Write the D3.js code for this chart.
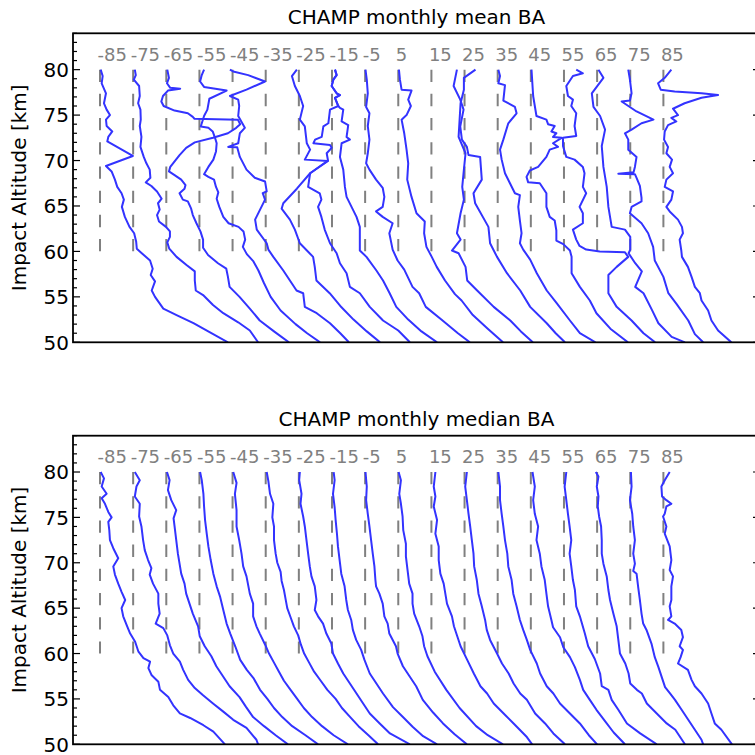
<!DOCTYPE html>
<html>
<head>
<meta charset="utf-8">
<script src="https://cdn.jsdelivr.net/npm/d3@7/dist/d3.min.js"></script>
<style>
  html, body { margin: 0; padding: 0; background: #fff; }
  svg { display: block; }
  text { font-family: "DejaVu Sans", sans-serif; }
</style>
</head>
<body>
<svg id="fig" width="755" height="755"></svg>
<script>
// Latitude bands (deg) – each profile is shifted horizontally by its band centre
const latitudes = [-85, -75, -65, -55, -45, -35, -25, -15, -5, 5, 15, 25, 35, 45, 55, 65, 75, 85];
const altTicks = [50, 55, 60, 65, 70, 75, 80];

// Monthly mean bending-angle profiles: [impact altitude km, shift]
const meanS85 = [[80,0.2],[79.3,0.8],[78.5,0.5],[77.4,1.8],[76.3,1.2],[75.6,2.0],[75.0,3.0],[74.5,1.8],[73.8,2.0],[73.2,3.7],[72.6,2.5],[72.1,2.2],[70.5,9.9],[69.4,1.8],[68.8,3.5],[67.9,4.5],[67.1,5.2],[66.4,6.5],[65.7,7.2],[64.9,6.6],[63.8,7.5],[62.7,8.9],[62.0,10.3],[61.1,10.9],[60.3,11.1],[59.8,12.6],[59.0,15.1],[58.1,15.9],[57.4,15.3],[56.7,16.6],[55.7,15.6],[55.0,16.6],[53.7,19.1],[53.0,23.1],[52.1,28.2],[51.1,33.2],[50,38.6]];
const meanS75 = [[80,0.5],[79.4,0.8],[78.9,0.2],[78.2,1.8],[77.1,2.0],[76.3,1.5],[75.6,2.2],[74.5,2.3],[73.8,2.0],[72.6,2.5],[71.5,2.2],[70.4,3.2],[69.7,4.0],[69.0,5.0],[68.1,5.2],[67.6,3.8],[67.2,5.5],[66.6,7.2],[65.8,8.6],[65.3,7.5],[64.6,8.0],[64.0,7.2],[63.3,7.8],[62.7,9.9],[62.2,11.1],[61.6,11.1],[61.0,10.3],[60.3,10.9],[59.4,13.1],[58.5,16.1],[57.8,18.6],[56.8,18.6],[55.7,18.9],[55.2,21.1],[54.1,24.1],[53.2,27.2],[52.2,31.7],[51.3,35.2],[50,37.7]];
const meanS65 = [[80,0.3],[79.1,0.8],[78.5,0.2],[78.0,1.2],[77.9,4.2],[77.7,0.5],[77.1,-1.0],[76.5,-1.5],[76.0,-0.8],[75.5,2.5],[75.2,6.5],[74.8,8.0],[74.6,8.5],[74.5,21.6],[74.0,22.3],[73.6,21.1],[73.0,18.6],[72.5,14.1],[72.0,8.6],[71.4,6.0],[70.6,4.0],[69.3,1.2],[68.8,0.8],[68.4,2.5],[67.9,4.5],[67.3,5.8],[66.9,5.5],[66.4,4.0],[65.7,5.0],[65.5,6.5],[64.7,7.5],[64.0,8.0],[63.1,9.1],[62.2,10.3],[61.3,11.1],[60.4,11.1],[59.6,12.6],[58.7,15.6],[58.1,18.1],[57.2,18.6],[56.1,19.1],[55.0,22.1],[53.7,25.2],[52.4,28.2],[51.2,32.5],[50,37.0]];
const meanS55 = [[80,1.4],[79.4,0.7],[78.7,0.2],[78.1,1.4],[77.7,8.2],[76.8,3.0],[75.6,2.4],[74.9,1.4],[73.75,0.4],[73.6,2.7],[73.2,4.0],[72.5,4.7],[71.9,5.2],[71.0,5.0],[70.1,4.2],[69.3,2.7],[68.5,1.4],[68.2,2.7],[67.9,4.4],[67.1,5.0],[66.5,5.7],[65.8,5.2],[64.9,6.0],[63.8,7.2],[63.1,8.8],[62.7,11.8],[62.2,13.3],[61.3,13.8],[60.5,13.1],[59.7,14.3],[58.9,16.3],[57.9,17.8],[56.5,19.5],[55.0,21.5],[53.5,24.5],[52.0,29.0],[51.0,32.5],[50,36.4]];
const meanS45 = [[80,-0.8],[79.8,0.2],[79.4,4.7],[78.7,9.8],[77.8,4.2],[77.1,-0.8],[76.7,1.7],[76.0,2.0],[74.9,1.7],[73.6,3.7],[73.0,2.2],[71.9,1.7],[71.5,-1.3],[71.45,1.4],[70.4,2.2],[69.0,4.2],[68.1,6.7],[67.7,9.8],[66.6,10.3],[66.4,9.1],[65.7,9.8],[63.5,6.8],[62.4,7.3],[60.9,10.3],[60.2,10.8],[59.4,12.3],[57.9,15.3],[56.8,17.3],[55.7,19.3],[55.4,21.3],[53.9,21.8],[53.2,25.4],[52.1,29.4],[51.0,32.5],[50,35.1]];
const meanS35 = [[80,9.4],[79.3,7.9],[78.2,8.8],[77.1,10.3],[76.0,11.3],[74.5,10.3],[73.75,11.8],[71.9,12.4],[71.2,13.4],[70.1,11.8],[69.95,18.8],[68.6,13.4],[66.9,9.4],[65.3,5.3],[64.7,4.8],[63.5,7.3],[62.4,8.8],[60.9,10.3],[59.4,14.3],[58.3,14.8],[56.8,15.3],[55.4,19.3],[54.0,22.5],[52.5,26.5],[51.2,30.5],[50,34.5]];
const meanS25 = [[80,10.9],[79.4,11.4],[78.9,10.4],[78.2,9.9],[77.4,11.4],[77.2,12.4],[76.9,10.9],[76.0,11.9],[75.6,9.4],[74.1,8.9],[73.75,7.4],[72.6,6.9],[72.3,4.9],[71.9,4.4],[71.7,9.4],[71.4,9.9],[70.8,8.4],[70.0,8.8],[68.6,3.4],[67.1,2.8],[66.4,6.3],[65.7,6.8],[64.9,5.8],[63.8,6.8],[62.4,7.8],[60.9,9.4],[59.8,11.4],[58.7,12.4],[57.6,14.4],[56.1,15.4],[55.4,18.4],[53.9,21.4],[52.4,25.4],[51.3,30.0],[50,33.5]];
const meanS15 = [[80,0.9],[79.4,1.4],[78.9,0.4],[78.2,-0.1],[77.4,1.4],[77.2,2.4],[76.9,0.9],[76.0,1.9],[75.8,2.4],[75.6,3.4],[74.3,2.9],[73.9,4.9],[72.6,4.4],[72.3,5.4],[71.9,2.9],[70.4,2.4],[69.0,3.4],[67.1,3.9],[66.0,4.4],[63.8,7.4],[62.7,8.4],[60.1,8.4],[59.4,10.4],[57.9,13.4],[56.8,15.4],[55.4,17.4],[53.9,19.4],[52.5,23.0],[51.2,27.0],[50,31.7]];
const meanS05 = [[80,0.1],[78.9,0.5],[77.4,0.8],[75.9,0.3],[75.2,1.3],[73.8,0.8],[72.3,1.3],[70.8,0.8],[69.7,0.3],[69.0,1.3],[67.9,3.3],[67.0,5.3],[66.0,5.8],[64.9,5.3],[64.4,3.3],[63.8,5.3],[63.1,8.3],[62.0,7.3],[60.2,8.3],[59.0,9.8],[58.0,11.8],[56.1,14.3],[55.4,16.3],[53.9,18.3],[52.5,23.0],[51.0,28.0],[50,31.6]];
const meanN05 = [[80,0.2],[78.9,0.5],[77.8,1.0],[77.7,4.0],[76.7,3.0],[76.0,3.8],[75.0,2.5],[74.5,1.0],[73.0,1.8],[71.2,2.5],[69.7,3.0],[67.9,2.7],[66.0,4.0],[64.2,5.5],[63.3,8.0],[62.0,7.8],[60.5,8.5],[59.4,10.1],[58.3,11.6],[56.8,14.1],[55.3,17.1],[54.6,19.1],[53.0,22.5],[51.5,27.0],[50,31.6]];
const meanN15 = [[80,13.3],[79.1,9.8],[77.8,9.8],[76.3,8.8],[72.6,8.2],[70.8,10.3],[69.0,9.8],[67.1,9.3],[65.7,9.8],[64.2,8.8],[62.0,7.7],[61.3,8.8],[60.1,6.2],[59.8,8.2],[58.3,10.3],[56.8,10.8],[55.7,13.8],[53.9,18.8],[52.4,23.8],[51.2,27.0],[50,30.6]];
const meanN25 = [[80,-2.3],[78.2,-3.3],[76.7,-1.3],[75.6,-0.3],[73.75,-1.3],[72.3,-0.8],[71.5,0.7],[70.6,1.2],[70.4,4.7],[67.9,5.2],[66.4,2.7],[65.3,3.2],[62.7,7.2],[60.9,7.7],[59.4,9.8],[57.6,12.8],[55.7,16.8],[53.9,19.8],[52.1,24.8],[51.0,27.5],[50,30.3]];
const meanN35 = [[80,0.2],[79.3,0.7],[78.5,0.2],[78.3,2.2],[76.6,1.7],[75.9,5.2],[75.2,5.7],[74.1,3.2],[72.3,1.7],[71.2,0.7],[70.1,1.2],[68.6,2.2],[67.5,3.7],[66.4,5.2],[66.2,6.7],[64.9,6.2],[63.4,6.7],[62.0,7.2],[60.9,6.7],[60.2,7.7],[59.1,9.8],[57.6,11.8],[55.7,14.8],[54.3,17.8],[52.4,21.8],[51.0,24.8],[50,29.5]];
const meanN45 = [[80,0.2],[77.1,0.7],[74.9,1.7],[74.5,4.7],[74.0,5.2],[73.8,7.2],[73.2,6.2],[73.0,7.7],[72.6,6.7],[72.5,9.3],[71.9,6.7],[71.5,8.2],[71.2,5.7],[70.4,4.7],[69.3,2.2],[68.9,-0.3],[68.2,-1.3],[67.6,-0.8],[67.5,2.7],[66.4,4.7],[64.9,4.7],[63.8,5.7],[63.4,7.2],[62.3,7.7],[61.2,7.7],[60.8,9.8],[60.1,11.8],[59.4,12.3],[57.6,12.3],[56.1,14.8],[54.6,17.8],[53.2,19.8],[51.5,24.0],[50,29.3]];
const meanN55 = [[80,3.7],[79.6,5.7],[79.3,2.7],[78.2,0.7],[77.1,1.2],[76.7,2.7],[76.0,2.2],[75.2,3.7],[73.8,3.2],[72.7,3.7],[72.5,-0.3],[71.6,-0.3],[70.4,0.7],[70.1,3.2],[69.3,5.7],[68.6,6.2],[67.1,5.7],[66.4,6.7],[64.9,4.7],[64.2,5.7],[63.1,5.7],[62.4,2.7],[61.3,3.7],[60.6,4.7],[60.2,6.7],[60.0,10.8],[59.9,18.4],[59.4,19.4],[58.3,15.9],[57.4,13.4],[55.4,13.4],[53.9,15.9],[52.4,20.4],[51.0,24.0],[50,27.5]];
const meanN65 = [[80,0.4],[79.1,1.9],[77.4,-1.6],[75.9,-1.1],[74.9,0.9],[73.4,2.4],[71.6,1.4],[69.3,1.9],[67.1,2.9],[64.9,3.4],[62.7,4.4],[62.4,8.4],[61.6,10.0],[60.2,10.0],[59.8,9.5],[58.7,11.5],[57.8,13.5],[56.1,11.5],[55.4,14.0],[53.6,16.5],[52.1,18.5],[50.6,22.5],[50,26.5]];
const meanN75 = [[80,-0.6],[78.9,-0.1],[77.4,0.4],[76.6,-0.1],[76.5,-2.6],[75.4,1.9],[74.5,7.0],[74.1,3.4],[73.4,0.4],[73.0,-1.6],[72.3,-0.6],[71.2,-0.6],[70.4,1.9],[69.3,1.4],[68.7,1.0],[68.55,-3.6],[68.5,1.4],[68.1,1.9],[67.2,2.9],[65.9,3.4],[65.5,3.4],[64.9,0.4],[64.2,-0.1],[63.1,3.4],[62.0,5.4],[60.5,6.9],[59.0,7.4],[57.2,10.0],[55.4,11.5],[54.2,14.0],[52.4,17.5],[50.9,19.5],[50,22.0]];
const meanN85 = [[80,2.4],[79.1,0.4],[78.5,-1.6],[77.8,-0.8],[77.6,3.4],[77.4,11.5],[77.2,16.5],[76.9,11.5],[76.3,6.4],[75.7,2.9],[75.0,4.4],[74.7,2.4],[74.3,3.9],[73.9,1.4],[73.2,0.4],[72.3,0.2],[71.5,1.4],[70.8,0.9],[70.1,2.6],[69.3,1.9],[68.6,2.9],[67.9,0.9],[67.1,0.4],[66.6,2.9],[65.7,2.4],[64.9,0.9],[64.4,1.9],[63.5,4.4],[62.7,5.6],[62.0,5.9],[61.3,4.9],[60.1,5.4],[59.4,5.6],[58.3,7.4],[57.2,8.5],[56.1,9.5],[55.4,11.0],[54.6,11.5],[53.5,13.5],[52.4,14.5],[51.3,16.5],[50,20.5]];

// Monthly median bending-angle profiles: [impact altitude km, shift]
const medS85 = [[80,0.2],[79.3,1.2],[78.4,0.5],[77.6,2.0],[77.1,0.5],[76.5,1.5],[75.6,2.5],[75.0,3.5],[74.5,2.5],[73.6,2.8],[72.5,3.0],[71.6,4.0],[70.5,5.5],[69.6,4.0],[68.7,4.5],[67.7,5.5],[66.8,6.5],[65.9,7.6],[65.0,6.5],[64.1,7.0],[63.0,8.2],[62.2,9.1],[61.3,10.6],[60.2,11.6],[59.5,13.1],[59.1,15.1],[58.4,14.6],[57.6,15.6],[56.9,17.6],[56.0,18.1],[55.2,20.6],[54.3,22.1],[53.4,24.1],[52.9,27.2],[52.1,31.2],[51.4,34.2],[50,37.7]];
const medS75 = [[80,0.5],[79.1,2.0],[78.4,1.0],[77.3,0.5],[76.5,2.0],[75.1,1.8],[74.0,2.5],[72.5,3.0],[71.4,3.5],[70.3,4.5],[69.4,5.5],[68.7,5.0],[67.7,6.0],[66.6,7.6],[65.5,7.6],[64.4,8.0],[63.3,6.8],[62.8,9.1],[62.0,10.3],[60.9,11.1],[60.0,12.1],[59.1,14.1],[58.2,15.1],[57.1,16.6],[56.2,18.6],[55.4,21.1],[54.5,24.1],[53.6,27.2],[52.7,30.2],[51.8,34.2],[50.5,37.2],[50,37.7]];
const medS65 = [[80,0.2],[79.1,1.0],[78.0,0.5],[76.9,1.5],[75.8,3.0],[74.9,2.2],[74.0,2.5],[72.5,3.0],[71.0,3.5],[69.9,4.0],[68.8,4.5],[67.7,5.5],[66.6,6.0],[65.5,7.0],[64.4,8.0],[63.0,9.6],[61.9,10.1],[60.8,11.6],[59.7,13.6],[58.6,15.1],[57.5,17.1],[56.4,19.1],[55.2,22.1],[54.1,24.1],[53.0,26.2],[52.0,29.5],[51.0,33.0],[50,36.7]];
const medS55 = [[80,0.2],[79.1,0.7],[77.6,1.2],[76.2,1.4],[74.7,1.7],[73.2,2.2],[71.8,2.7],[70.3,3.4],[68.8,4.2],[67.4,5.2],[66.3,6.2],[64.8,7.2],[63.3,8.2],[62.2,9.3],[60.8,10.8],[59.3,12.3],[58.2,14.3],[57.3,16.3],[56.0,18.3],[55.0,20.5],[54.0,22.5],[53.0,25.0],[52.0,28.0],[51.0,32.0],[50,35.8]];
const medS45 = [[80,0.2],[78.8,1.2],[77.6,0.7],[75.8,1.2],[74.0,1.2],[72.5,2.0],[71.0,2.7],[69.6,3.2],[68.5,4.2],[66.6,5.2],[65.5,6.2],[64.1,6.2],[63.0,7.2],[62.2,8.2],[61.0,9.8],[60.0,11.0],[59.0,12.5],[58.0,14.0],[57.0,15.5],[56.0,17.5],[55.0,19.5],[54.0,21.5],[53.0,24.0],[52.0,27.0],[51.0,30.5],[50,34.8]];
const medS35 = [[80,0.3],[79.0,0.8],[77.6,1.3],[76.5,2.3],[75.0,2.0],[74.0,2.5],[72.5,2.5],[71.0,3.0],[70.0,3.5],[69.0,4.5],[68.0,4.8],[67.0,5.5],[66.0,6.0],[65.0,6.5],[64.0,7.5],[63.0,8.5],[62.0,9.8],[61.0,10.6],[60.0,11.6],[59.0,13.1],[58.0,14.6],[57.0,16.6],[56.0,18.6],[55.0,21.1],[54.0,23.0],[53.0,25.5],[52.0,28.0],[51.0,31.0],[50,33.9]];
const medS25 = [[80,0.3],[79.1,0.1],[77.6,0.8],[76.5,0.5],[75.1,1.3],[74.0,1.8],[72.5,2.3],[71.0,2.8],[69.6,3.3],[68.5,3.8],[67.4,4.8],[65.9,5.3],[64.8,4.8],[64.1,5.8],[63.3,7.3],[62.2,8.3],[61.1,9.8],[60.0,10.3],[58.9,11.8],[57.8,13.4],[56.7,15.4],[55.6,17.4],[54.5,19.4],[53.4,21.4],[52.3,24.4],[51.2,27.5],[50,33.5]];
const medS15 = [[80,0.5],[79.1,0.8],[77.6,0.3],[76.1,0.8],[74.7,1.1],[73.2,1.5],[71.8,1.8],[70.3,2.3],[68.8,2.8],[67.4,3.8],[65.9,4.3],[64.8,4.8],[63.7,5.8],[62.6,6.3],[61.5,7.3],[60.4,8.8],[59.3,9.8],[57.8,11.4],[56.7,13.4],[55.6,15.4],[54.1,18.4],[53.0,21.4],[51.9,24.4],[50.9,27.5],[50,31.7]];
const medS05 = [[80,0.1],[78.4,0.5],[76.9,0.3],[75.4,0.8],[74.0,1.3],[72.5,1.8],[71.0,2.3],[69.6,2.8],[68.1,3.1],[67.4,3.3],[66.6,4.3],[65.5,5.3],[64.1,5.8],[63.3,6.8],[62.2,7.3],[60.8,9.3],[60.0,9.8],[58.6,11.4],[57.5,13.4],[56.4,15.4],[54.9,17.4],[53.5,20.5],[52.3,23.5],[51.1,27.0],[50,30.7]];
const medN05 = [[80,0.1],[79.1,0.8],[77.6,0.3],[76.5,0.8],[75.1,1.3],[73.6,1.5],[72.1,2.3],[70.7,2.3],[69.2,2.8],[67.7,3.3],[66.6,4.3],[65.5,4.3],[64.4,4.8],[63.0,6.3],[61.9,7.3],[60.8,7.8],[59.7,8.8],[58.0,11.0],[56.0,14.5],[54.0,18.5],[52.0,23.5],[51.0,27.0],[50,31.6]];
const medN15 = [[80,1.2],[78.4,0.7],[77.3,1.2],[76.2,0.7],[74.7,1.7],[73.2,1.2],[71.8,2.2],[70.3,2.2],[68.8,2.7],[67.7,3.7],[66.6,4.2],[65.5,4.7],[64.1,6.2],[63.0,6.8],[61.9,7.8],[60.8,8.8],[59.3,10.8],[57.8,12.8],[56.4,14.8],[55.6,16.8],[54.5,18.8],[53.4,21.8],[52.3,24.8],[50.8,28.8],[50,30.4]];
const medN25 = [[80,0.7],[78.4,0.2],[76.9,0.7],[75.4,1.2],[74.0,1.7],[72.5,2.2],[71.0,2.7],[69.6,2.9],[68.1,3.7],[66.6,4.2],[65.2,5.2],[63.7,6.2],[62.6,6.7],[61.5,7.7],[60.0,9.8],[58.9,11.3],[57.8,13.3],[56.7,14.8],[55.6,16.8],[54.9,18.8],[53.4,21.3],[52.3,24.3],[51.2,26.8],[50,30.3]];
const medN35 = [[80,0.2],[78.4,0.7],[76.9,0.7],[75.4,1.2],[74.0,1.7],[72.5,2.2],[71.0,2.9],[69.6,3.2],[68.1,4.2],[66.6,4.7],[65.2,5.7],[63.7,6.7],[62.6,7.7],[61.5,8.8],[60.4,9.8],[58.9,11.8],[57.8,12.8],[56.4,14.8],[55.6,16.8],[54.5,18.8],[53.4,21.8],[52.3,24.8],[51.0,27.5],[50,30.0]];
const medN45 = [[80,0.5],[78.4,1.2],[76.9,0.7],[75.4,1.2],[74.0,2.2],[72.5,1.7],[71.0,2.7],[69.6,3.2],[68.1,4.2],[66.6,4.7],[65.2,5.2],[63.7,6.2],[62.9,6.7],[61.8,8.8],[60.7,9.8],[59.6,11.8],[58.5,13.3],[57.1,14.8],[56.0,15.8],[54.9,17.8],[53.8,19.8],[52.5,22.5],[51.3,25.0],[50,28.4]];
const medN55 = [[80,0.7],[78.4,0.2],[76.9,0.7],[75.4,1.2],[74.0,1.7],[72.5,2.2],[71.0,1.7],[69.6,2.2],[68.1,2.7],[67.0,3.3],[65.2,3.7],[64.1,4.8],[62.2,6.3],[60.8,7.3],[59.4,9.3],[57.8,10.9],[56.4,11.4],[56.0,13.4],[54.9,14.4],[53.8,16.4],[52.3,19.0],[51.2,23.0],[50,28.0]];
const medN65 = [[80,-0.4],[79.5,0.4],[78.4,-0.1],[77.3,0.4],[76.2,0.2],[75.1,0.6],[74.0,1.2],[72.5,1.4],[71.0,1.4],[69.9,1.9],[68.5,2.9],[67.0,3.4],[65.9,3.9],[64.4,4.9],[63.0,5.9],[61.5,6.4],[60.0,6.9],[58.9,8.5],[57.8,9.5],[56.7,10.0],[56.0,12.0],[55.6,13.5],[54.5,15.0],[53.4,18.0],[52.3,21.0],[51.6,23.6],[50,26.5]];
const medN75 = [[80,0.2],[78.4,0.4],[76.9,-0.1],[75.4,0.6],[74.0,0.9],[72.5,1.4],[71.0,0.9],[69.9,1.4],[69.1,0.9],[68.8,1.9],[67.3,2.4],[65.9,2.9],[64.4,3.4],[63.3,3.9],[62.6,4.9],[61.1,6.4],[59.6,7.4],[58.5,8.5],[57.4,9.5],[56.3,10.5],[55.6,12.0],[54.9,13.5],[53.8,15.5],[52.7,17.5],[51.6,19.5],[50.5,21.5],[50,22.0]];
const medN85 = [[80,1.9],[79.1,0.4],[78.4,-0.6],[77.3,-0.4],[76.9,0.9],[76.5,2.4],[76.2,0.9],[75.4,0.4],[75.1,-0.1],[74.0,0.9],[73.2,0.4],[71.8,1.9],[70.3,2.4],[69.2,1.9],[68.5,2.9],[67.4,2.4],[65.9,2.4],[65.2,1.9],[64.1,2.4],[63.7,1.4],[63.3,3.4],[62.6,5.4],[61.8,5.9],[60.8,4.9],[60.4,5.9],[59.6,5.2],[58.9,4.4],[58.2,7.4],[57.1,8.5],[56.4,9.5],[55.6,11.5],[54.5,13.5],[53.4,14.5],[52.3,15.5],[51.6,17.5],[50,20.7]];

const meanSeries = [meanS85, meanS75, meanS65, meanS55, meanS45, meanS35, meanS25, meanS15, meanS05,
                    meanN05, meanN15, meanN25, meanN35, meanN45, meanN55, meanN65, meanN75, meanN85];
const medianSeries = [medS85, medS75, medS65, medS55, medS45, medS35, medS25, medS15, medS05,
                      medN05, medN15, medN25, medN35, medN45, medN55, medN65, medN75, medN85];

const panels = [
  { title: "CHAMP monthly mean BA", top: 33.3, bottom: 342.3, series: meanSeries },
  { title: "CHAMP monthly median BA", top: 435.7, bottom: 744.3, series: medianSeries }
];

const svg = d3.select("#fig");
const left = 73, right = 760;
const x = d3.scaleLinear().domain([-93.15, 114.15]).range([left, right]);
const lineBlue = "#3333ff", grey = "#808080";

panels.forEach((p, pi) => {
  const y = d3.scaleLinear().domain([50, 84]).range([p.bottom, p.top]);
  const g = svg.append("g");
  const clipId = "clip" + pi;
  svg.append("clipPath").attr("id", clipId)
    .append("rect").attr("x", left).attr("y", p.top).attr("width", right - left).attr("height", p.bottom - p.top);

  // dashed reference line for each latitude band, 60–80 km
  g.selectAll("line.ref").data(latitudes).join("line")
    .attr("class", "ref")
    .attr("x1", d => x(d)).attr("x2", d => x(d))
    .attr("y1", y(80)).attr("y2", y(60))
    .attr("stroke", grey).attr("stroke-width", 2)
    .attr("stroke-dasharray", "12.3,11.9");

  // band labels
  g.selectAll("text.lat").data(latitudes).join("text")
    .attr("class", "lat")
    .attr("x", d => x(d - 0.75)).attr("y", y(81))
    .attr("fill", grey).attr("font-size", 18)
    .text(d => d);

  // profiles
  const line = (lat) => d3.line().x(d => x(lat + d[1])).y(d => y(d[0]));
  g.append("g").attr("clip-path", `url(#${clipId})`)
    .selectAll("path").data(p.series).join("path")
    .attr("d", (s, i) => line(latitudes[i])(s))
    .attr("fill", "none").attr("stroke", lineBlue).attr("stroke-width", 2)
    .attr("stroke-linejoin", "round").attr("stroke-linecap", "butt");

  // y ticks (inward, both sides)
  const minor = d3.range(50, 85, 1);
  minor.forEach(v => {
    const major = v % 5 === 0 && v <= 80;
    const len = major ? 7 : 4;
    g.append("line").attr("x1", left).attr("x2", left + len).attr("y1", y(v)).attr("y2", y(v))
      .attr("stroke", "#000").attr("stroke-width", 1.2);
    g.append("line").attr("x1", right).attr("x2", right - len).attr("y1", y(v)).attr("y2", y(v))
      .attr("stroke", "#000").attr("stroke-width", 1.2);
  });
  g.selectAll("text.yt").data(altTicks).join("text")
    .attr("class", "yt")
    .attr("x", left - 4).attr("y", d => y(d) + 7.3)
    .attr("text-anchor", "end").attr("font-size", 20).attr("fill", "#000")
    .text(d => d);

  // frame
  g.append("rect").attr("x", left).attr("y", p.top).attr("width", right - left).attr("height", p.bottom - p.top)
    .attr("fill", "none").attr("stroke", "#000").attr("stroke-width", 1.8);

  // title and axis label
  g.append("text").attr("x", (left + right) / 2).attr("y", p.top - 9.5)
    .attr("text-anchor", "middle").attr("font-size", 20).attr("fill", "#000").text(p.title);
  g.append("text")
    .attr("transform", `translate(26,${(p.top + p.bottom) / 2}) rotate(-90)`)
    .attr("text-anchor", "middle").attr("font-size", 20).attr("fill", "#000")
    .text("Impact Altitude [km]");
});
</script>
</body>
</html>
